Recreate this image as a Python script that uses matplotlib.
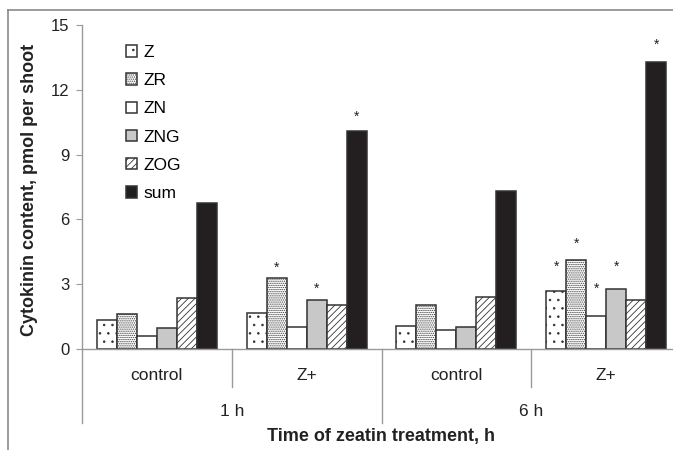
import matplotlib.pyplot as plt
from matplotlib.lines import Line2D

plt.rcParams['font.family'] = ['Liberation Sans', 'DejaVu Sans']
plt.rcParams['hatch.linewidth'] = 0.6

# data
series = ['Z', 'ZR', 'ZN', 'ZNG', 'ZOG', 'sum']
groups = ['control', 'Z+', 'control', 'Z+']
times = ['1 h', '6 h']
z_vals = [1.32, 1.66, 1.06, 2.70]
zr_vals = [1.60, 3.27, 2.03, 4.10]
zn_vals = [0.62, 1.01, 0.88, 1.55]
zng_vals = [0.95, 2.27, 1.01, 2.79]
zog_vals = [2.34, 2.03, 2.41, 2.27]
sum_vals = [6.75, 10.08, 7.30, 13.28]
# significance marks: (group index, series index, height)
star_group = [1, 1, 1, 3, 3, 3, 3, 3]
star_series = [1, 3, 5, 0, 1, 2, 3, 5]
star_y = [3.78, 2.78, 10.73, 3.79, 4.88, 2.78, 3.79, 14.1]

values = [z_vals, zr_vals, zn_vals, zng_vals, zog_vals, sum_vals]
fills = ['white', 'white', 'white', '#c8c8c8', 'white', '#231f20']
hatches = ['..', '........', None, None, '/////', None]
edge = '#333333'
gray = '#9a9a9a'

fig = plt.figure(figsize=(6.73, 4.5), dpi=100)
W, H = 673, 450
ax = fig.add_axes([82 / W, 1 - 349 / H, (681 - 82) / W, (349 - 25) / H])

bw = 0.1333
for j, name in enumerate(series):
    xs = [i + (j - 2.5) * bw for i in range(len(groups))]
    ax.bar(xs, values[j], width=bw, color=fills[j], edgecolor=edge,
           linewidth=1.1, hatch=hatches[j], label=name, zorder=2)

for g, s, y in zip(star_group, star_series, star_y):
    ax.text(g + (s - 2.5) * bw, y, '*', ha='center', va='center',
            fontsize=10, color='#222222')

ax.set_xlim(-0.5, 3.5)
ax.set_ylim(0, 15)
ax.set_yticks([0, 3, 6, 9, 12, 15])
ax.set_xticks([])
for sp in ['top', 'right']:
    ax.spines[sp].set_visible(False)
for sp in ['left', 'bottom']:
    ax.spines[sp].set_color(gray)
    ax.spines[sp].set_linewidth(1.0)
ax.tick_params(axis='y', direction='out', length=4, color=gray,
               labelsize=12, pad=5, labelcolor='#222222')

# category axis below the plot
trans = ax.get_xaxis_transform()
ah = 349 - 25
for x in [0.5, 2.5]:
    ax.plot([x, x], [0, -38 / ah], transform=trans, color=gray, lw=1.0, clip_on=False)
for x in [-0.5, 1.5, 3.5]:
    ax.plot([x, x], [0, -74 / ah], transform=trans, color=gray, lw=1.0, clip_on=False)
for i, lab in enumerate(groups):
    ax.text(i, -27 / ah, lab, transform=trans, ha='center', va='center',
            fontsize=12.5, color='#222222')
for k, lab in enumerate(times):
    ax.text(0.5 + 2 * k, -63 / ah, lab, transform=trans, ha='center', va='center',
            fontsize=12.5, color='#222222')

fig.text(381 / W, 1 - 437 / H, 'Time of zeatin treatment, h', ha='center',
         va='center', fontsize=13, fontweight='bold', color='#222222')
fig.text(30 / W, 1 - 190 / H, 'Cytokinin content, pmol per shoot', ha='center',
         va='center', rotation=90, fontsize=13, fontweight='bold', color='#222222')

ax.legend(loc='upper left', bbox_to_anchor=((126 - 82) / 599, (349 - 45) / ah),
          frameon=False, fontsize=12.5, handlelength=0.63, handleheight=0.63,
          handletextpad=0.35, labelspacing=0.76, borderpad=0, borderaxespad=0)

# chart border
fig.add_artist(Line2D([8 / W, 8 / W], [0, 1 - 10 / H], color='#8a8a8a', lw=1.2))
fig.add_artist(Line2D([8 / W, 1], [1 - 10 / H, 1 - 10 / H], color='#8a8a8a', lw=1.2))

fig.savefig('out.png', dpi=100)
